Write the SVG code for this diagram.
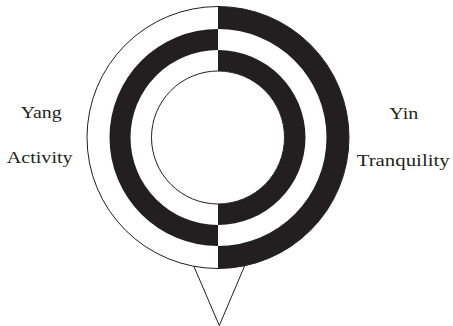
<svg xmlns="http://www.w3.org/2000/svg" width="453" height="326" viewBox="0 0 453 326">
<style>
.lbl{font-family:"Liberation Serif","Times New Roman",serif;font-size:16.5px;fill:#231f20}
.ink{fill:#231f20}
.ln{fill:none;stroke:#231f20;stroke-width:1}
</style>
<rect width="453" height="326" fill="#ffffff"/>
<g id="pointer">
<polyline class="ln" points="193.3,265 219.3,325.5 245,265"/>
</g>
<g id="emblem">
<circle cx="218" cy="137.5" r="131" fill="#ffffff" stroke="#231f20" stroke-width="1"/>
<path class="ink" d="M218,6.5 A131,131 0 0 1 218,268.5 L218,246 A108.5,108.5 0 0 0 218,29 Z"/>
<path class="ink" d="M218,29 A108.5,108.5 0 0 0 218,246 L218,225 A87.5,87.5 0 0 1 218,50 Z"/>
<path class="ink" d="M218,50 A87.5,87.5 0 0 1 218,225 L218,204 A66.5,66.5 0 0 0 218,71 Z"/>
<circle cx="218" cy="137.5" r="66.5" fill="#ffffff" stroke="#231f20" stroke-width="1"/>
</g>
<g id="label-yang"><text class="lbl" x="20.7" y="117.5" textLength="41" lengthAdjust="spacingAndGlyphs">Yang</text></g>
<g id="label-activity"><text class="lbl" x="6.7" y="163" textLength="66" lengthAdjust="spacingAndGlyphs">Activity</text></g>
<g id="label-yin"><text class="lbl" x="389.3" y="118.5" textLength="29" lengthAdjust="spacingAndGlyphs">Yin</text></g>
<g id="label-tranquility"><text class="lbl" x="356.7" y="165.5" textLength="93" lengthAdjust="spacingAndGlyphs">Tranquility</text></g>
</svg>
